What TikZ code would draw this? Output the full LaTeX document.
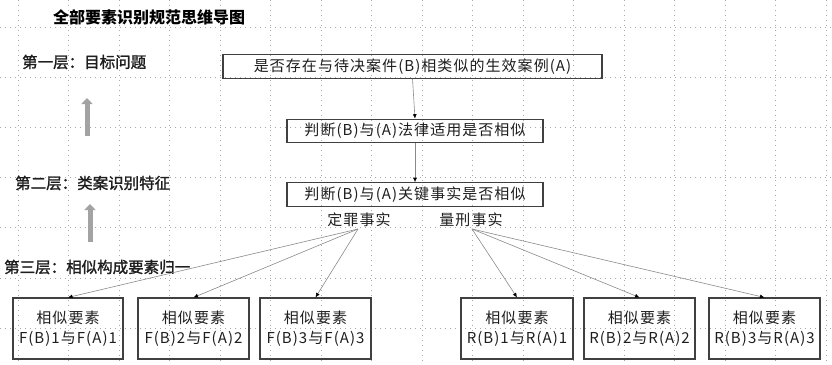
\documentclass[tikz,border=0pt]{standalone}
\usepackage{fontspec}
\setmainfont{Noto Sans CJK SC}
\newfontfamily\medfont[FakeBold=1.5]{Noto Sans CJK SC}
\newfontfamily\spfont[LetterSpace=7]{Noto Sans CJK SC}
\usetikzlibrary{arrows.meta}
\definecolor{txt}{HTML}{1E1E1E}
\definecolor{boxline}{HTML}{404040}
\definecolor{conn}{HTML}{8A8A8A}
\definecolor{gridc}{HTML}{A8A8A8}
\definecolor{fatarrow}{HTML}{A3A3A3}
\tikzset{
  gridline/.style={draw=gridc, line width=0.9pt, dash pattern=on 1pt off 4pt},
  topbox/.style={draw=boxline, line width=1.1pt, inner sep=0pt, text=txt,
    font=\fontsize{15}{18}\spfont, minimum height=23.5pt},
  elembox/.style={draw=boxline, line width=1.1pt, inner sep=0pt, text=txt, align=center,
    font=\fontsize{15}{20}\spfont, minimum height=61pt, minimum width=111pt},
  factlabel/.style={inner sep=0pt, text=txt, font=\fontsize{15}{18}\spfont},
  layerlabel/.style={inner sep=0pt, anchor=west, text=txt, font=\fontsize{15.5}{18}\medfont},
  conn/.style={draw=conn, line width=0.6pt, -{Latex[length=4.5pt,width=4pt,color=black]}},
  fat/.style={draw=fatarrow, line width=5pt, -{Triangle[length=6pt,width=11pt]}},
}
\begin{document}
\begin{tikzpicture}[x=1pt,y=-1pt]
\useasboundingbox (0,0) rectangle (832,364);
% background grid
\foreach \k in {0,...,16} \draw[gridline] ({18+50.5*\k},0) -- ({18+50.5*\k},364);
\foreach \k in {0,...,6} \draw[gridline] (0,{27.5+50.1*\k}) -- (832,{27.5+50.1*\k});

% title and layer labels
\node[inner sep=0pt, text=black, font=\fontsize{16}{18}\selectfont\bfseries] (title) at (149,17) {全部要素识别规范思维导图};
\node[layerlabel] (l1) at (22,62) {第一层：目标问题};
\node[layerlabel] (l2) at (15,183) {第二层：类案识别特征};
\node[layerlabel] (l3) at (4,267) {第三层：相似构成要素归一};

% fat grey arrows
\coordinate (fa1s) at (87,136);
\coordinate (fa1e) at (87,98);
\coordinate (fa2s) at (90,242);
\coordinate (fa2e) at (90,204);
\draw[fat] (fa1s) -- (fa1e);
\draw[fat] (fa2s) -- (fa2e);

% main chain
\node[topbox, minimum width=379pt] (q) at (412.5,66.5) {是否存在与待决案件(B)相类似的生效案例(A)};
\node[topbox, minimum width=256pt] (law) at (415,131) {判断(B)与(A)法律适用是否相似};
\node[topbox, minimum width=256pt] (fact) at (415,194.5) {判断(B)与(A)关键事实是否相似};
\draw[conn] (q.south) -- (law.north);
\draw[conn] (law.south) -- (fact.north);

% fact labels
\node[factlabel] (conv) at (359,219.5) {定罪事实};
\node[factlabel] (sent) at (471,219.5) {量刑事实};
\coordinate (convp) at (358,229);
\coordinate (sentp) at (472,229);

% element boxes
\node[elembox, minimum width=110pt] (f1) at (68,328.5) {相似要素\\F(B)1与F(A)1};
\node[elembox] (f2) at (193.5,328.5) {相似要素\\F(B)2与F(A)2};
\node[elembox] (f3) at (315.5,328.5) {相似要素\\F(B)3与F(A)3};
\node[elembox, minimum width=112pt] (r1) at (517,328.5) {相似要素\\R(B)1与R(A)1};
\node[elembox] (r2) at (639.5,328.5) {相似要素\\R(B)2与R(A)2};
\node[elembox] (r3) at (764.5,328.5) {相似要素\\R(B)3与R(A)3};

\foreach \b in {f1,f2,f3} \draw[conn] (convp) -- (\b.north);
\foreach \b in {r1,r2,r3} \draw[conn] (sentp) -- (\b.north);
\end{tikzpicture}
\end{document}
